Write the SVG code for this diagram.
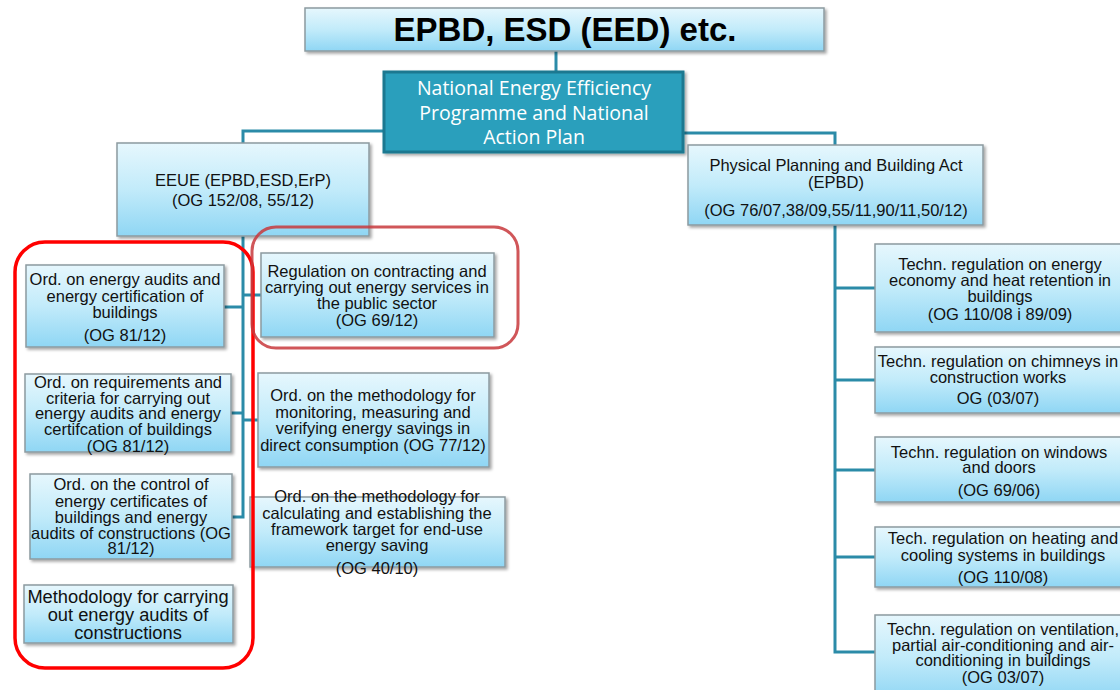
<svg xmlns="http://www.w3.org/2000/svg" width="1120" height="690" viewBox="0 0 1120 690">
<defs>
<linearGradient id="g" x1="0" y1="0" x2="0" y2="1">
<stop offset="0" stop-color="#e6f7fd"/>
<stop offset="0.5" stop-color="#c2ebfa"/>
<stop offset="1" stop-color="#8fd6f4"/>
</linearGradient>
<filter id="sh" x="-10%" y="-10%" width="125%" height="130%">
<feDropShadow dx="2" dy="2" stdDeviation="1.5" flood-color="#000" flood-opacity="0.35"/>
</filter>
</defs>
<style>
.box{fill:url(#g);stroke:#8c9aa0;stroke-width:1.5;filter:url(#sh)}
.t{font-family:"Liberation Sans",Arial,sans-serif;font-size:16.5px;fill:#111;text-anchor:middle}
.c{fill:none;stroke:#2b8ba8;stroke-width:3}
.w{font-family:"Open Sans","Noto Sans",sans-serif;font-size:19.5px;fill:#fff;text-anchor:middle}
</style>
<rect width="1120" height="690" fill="#fff"/>
<g id="connectors">
<path class="c" d="M556,51 V72"/>
<path class="c" d="M384,131 H243 V143"/>
<path class="c" d="M683,133 H835 V145"/>
<path class="c" d="M243,235 V517 H232"/>
<path class="c" d="M224,307 H243"/>
<path class="c" d="M231,413 H243"/>
<path class="c" d="M243,295 H261"/>
<path class="c" d="M243,420 H258"/>
<path class="c" d="M835,225 V652 H876"/>
<path class="c" d="M835,288 H876"/>
<path class="c" d="M835,380 H876"/>
<path class="c" d="M835,470 H876"/>
<path class="c" d="M835,557 H876"/>
</g>
<g id="top">
<rect class="box" x="305" y="8" width="519" height="43"/>
<text x="565" y="41" style="font-family:'Liberation Sans',Arial,sans-serif;font-size:33px;font-weight:bold;text-anchor:middle;fill:#000">EPBD, ESD (EED) etc.</text>
</g>
<g id="neep">
<rect x="384" y="72" width="299" height="80" fill="#2c9fbc" stroke="#1d7890" stroke-width="3" filter="url(#sh)"/>
<text class="w" x="534" y="95">National Energy Efficiency</text>
<text class="w" x="534" y="120">Programme and National</text>
<text class="w" x="534" y="144">Action Plan</text>
</g>
<g id="eeue">
<rect class="box" x="117" y="143" width="252" height="93"/>
<text class="t" x="243" y="186">EEUE (EPBD,ESD,ErP)</text>
<text class="t" x="243" y="206">(OG 152/08, 55/12)</text>
</g>
<g id="ppba">
<rect class="box" x="688" y="145" width="295" height="80"/>
<text class="t" x="836" y="171">Physical Planning and Building Act</text>
<text class="t" x="836" y="188">(EPBD)</text>
<text class="t" x="836" y="216">(OG 76/07,38/09,55/11,90/11,50/12)</text>
</g>
<g id="ordAudits">
<rect class="box" x="26" y="265" width="198" height="82"/>
<text class="t" x="125" y="285">Ord. on energy audits and</text>
<text class="t" x="125" y="302">energy certification of</text>
<text class="t" x="125" y="318">buildings</text>
<text class="t" x="125" y="341">(OG 81/12)</text>
</g>
<g id="ordReq">
<rect class="box" x="25" y="374" width="206" height="78"/>
<text class="t" x="128" y="388">Ord. on requirements and</text>
<text class="t" x="128" y="404">criteria for carrying out</text>
<text class="t" x="128" y="419">energy audits and energy</text>
<text class="t" x="128" y="435">certifcation of buildings</text>
<text class="t" x="128" y="452">(OG 81/12)</text>
</g>
<g id="ordControl">
<rect class="box" x="30" y="474" width="202" height="85"/>
<text class="t" x="131" y="490">Ord. on the control of</text>
<text class="t" x="131" y="507">energy certificates of</text>
<text class="t" x="131" y="523">buildings and  energy</text>
<text class="t" x="131" y="539">audits of constructions (OG</text>
<text class="t" x="131" y="554">81/12)</text>
</g>
<g id="methodology">
<rect class="box" x="24" y="585" width="209" height="58"/>
<text class="t" x="128" y="603" style="font-size:18.3px">Methodology for carrying</text>
<text class="t" x="128" y="621" style="font-size:18.3px">out   energy audits of</text>
<text class="t" x="128" y="639" style="font-size:18.3px">constructions</text>
</g>
<g id="regContracting">
<rect class="box" x="261" y="253" width="233" height="84"/>
<text class="t" x="377" y="277">Regulation on contracting and</text>
<text class="t" x="377" y="293">carrying out energy services in</text>
<text class="t" x="377" y="309">the public sector</text>
<text class="t" x="377" y="326">(OG 69/12)</text>
</g>
<g id="ordMonitoring">
<rect class="box" x="258" y="373" width="231" height="94"/>
<text class="t" x="373" y="401">Ord. on the methodology for</text>
<text class="t" x="373" y="418">monitoring, measuring and</text>
<text class="t" x="373" y="434">verifying energy savings in</text>
<text class="t" x="373" y="451">direct consumption (OG 77/12)</text>
</g>
<g id="ordFramework">
<rect class="box" x="250" y="497" width="255" height="70"/>
<text class="t" x="377" y="502">Ord. on the methodology for</text>
<text class="t" x="377" y="519">calculating and establishing the</text>
<text class="t" x="377" y="535">framework target for end-use</text>
<text class="t" x="377" y="551">energy saving</text>
<text class="t" x="377" y="574">(OG  40/10)</text>
</g>
<g id="highlights" fill="none">
<rect x="15" y="242" width="238" height="426" rx="30" stroke="#ff0000" stroke-width="3.5"/>
<rect x="252" y="227" width="266" height="121" rx="24" stroke="#c8383c" stroke-width="3" opacity="0.85"/>
</g>
<g id="techEnergy">
<rect class="box" x="875" y="244" width="260" height="88"/>
<text class="t" x="1000" y="270">Techn. regulation on energy</text>
<text class="t" x="1000" y="286">economy and heat retention in</text>
<text class="t" x="1000" y="302">buildings</text>
<text class="t" x="1000" y="320">(OG 110/08 i 89/09)</text>
</g>
<g id="techChimneys">
<rect class="box" x="875" y="347" width="260" height="66"/>
<text class="t" x="998" y="367">Techn. regulation on chimneys in</text>
<text class="t" x="998" y="383">construction works</text>
<text class="t" x="998" y="404">OG (03/07)</text>
</g>
<g id="techWindows">
<rect class="box" x="875" y="437" width="260" height="65"/>
<text class="t" x="999" y="458">Techn. regulation on windows</text>
<text class="t" x="999" y="473">and doors</text>
<text class="t" x="999" y="496">(OG 69/06)</text>
</g>
<g id="techHeating">
<rect class="box" x="875" y="527" width="260" height="60"/>
<text class="t" x="1003" y="544">Tech. regulation on  heating and</text>
<text class="t" x="1003" y="561">cooling systems in buildings</text>
<text class="t" x="1003" y="583">(OG 110/08)</text>
</g>
<g id="techVentilation">
<rect class="box" x="875" y="615" width="260" height="85"/>
<text class="t" x="1003" y="635">Techn. regulation on ventilation,</text>
<text class="t" x="1003" y="651">partial air-conditioning and air-</text>
<text class="t" x="1003" y="666">conditioning in buildings</text>
<text class="t" x="1003" y="683">(OG 03/07)</text>
</g>
</svg>
